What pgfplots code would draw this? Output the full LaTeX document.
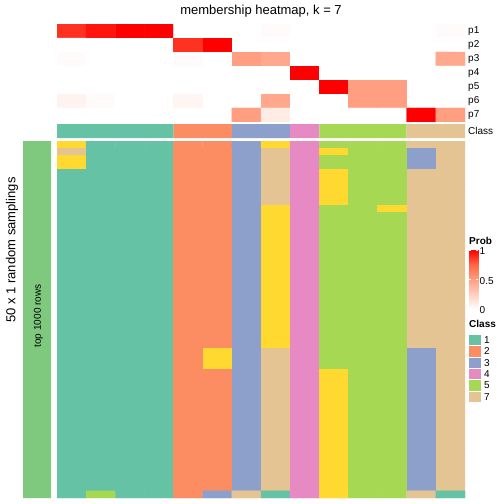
\documentclass[border=0pt]{standalone}
\usepackage{fontspec}
\setmainfont{Liberation Sans}
\usepackage{pgfplots}
\pgfplotsset{compat=1.18}
\definecolor{c1}{RGB}{102,194,165}
\definecolor{c2}{RGB}{252,141,98}
\definecolor{c3}{RGB}{141,160,203}
\definecolor{c4}{RGB}{231,138,195}
\definecolor{c5}{RGB}{166,216,84}
\definecolor{c7}{RGB}{229,196,148}
\definecolor{accgreen}{RGB}{127,201,127}
\pgfplotsset{
  colormap={probmap}{rgb255=(255,255,255) rgb255=(255,207,191) rgb255=(255,158,129) rgb255=(255,103,70) rgb255=(255,0,0)},
  colormap={classmap}{rgb255=(255,255,255) rgb255=(102,194,165) rgb255=(252,141,98) rgb255=(141,160,203) rgb255=(231,138,195) rgb255=(166,216,84) rgb255=(255,217,47) rgb255=(229,196,148)},
  hm/.style={scale only axis, anchor=north west, axis line style={draw=none}, major tick length=0pt, xtick=\empty, xmin=0.5, xmax=14.5, width=408bp, /pgf/number format/assume math mode=true},
}
\newcommand{\fs}[1]{\fontsize{#1bp}{#1bp}\selectfont}
\begin{document}
\begin{tikzpicture}
\path[use as bounding box] (0,0) rectangle (504bp,-504bp);
\node at (261bp,-11bp) {\fs{13}membership heatmap, k = 7};
\node[rotate=90] at (12bp,-250bp) {\fs{13}50 x 1 random samplings};
% probability heatmap
\begin{axis}[hm, at={(57bp,-24bp)}, height=98bp, ymin=0.5, ymax=7.5, y dir=reverse,
  ytick={1,2,3,4,5,6,7}, yticklabels={p1,p2,p3,p4,p5,p6,p7}, yticklabel pos=right,
  yticklabel style={font=\fs{10}, inner xsep=3bp},
  colormap name=probmap, point meta min=0, point meta max=1]
\addplot[matrix plot*, mesh/cols=14, point meta=explicit] table[row sep=\\, meta=c] {x y c\\
1 1 0.88\\ 2 1 0.95\\ 3 1 1\\ 4 1 1\\ 5 1 0\\ 6 1 0\\ 7 1 0\\ 8 1 0.02\\ 9 1 0\\ 10 1 0\\ 11 1 0\\ 12 1 0\\ 13 1 0\\ 14 1 0.02\\
1 2 0\\ 2 2 0\\ 3 2 0\\ 4 2 0\\ 5 2 0.88\\ 6 2 1\\ 7 2 0\\ 8 2 0\\ 9 2 0\\ 10 2 0\\ 11 2 0\\ 12 2 0\\ 13 2 0\\ 14 2 0\\
1 3 0.02\\ 2 3 0\\ 3 3 0\\ 4 3 0\\ 5 3 0.02\\ 6 3 0\\ 7 3 0.5\\ 8 3 0.45\\ 9 3 0\\ 10 3 0\\ 11 3 0\\ 12 3 0\\ 13 3 0\\ 14 3 0.45\\
1 4 0\\ 2 4 0\\ 3 4 0\\ 4 4 0\\ 5 4 0\\ 6 4 0\\ 7 4 0\\ 8 4 0\\ 9 4 1\\ 10 4 0\\ 11 4 0\\ 12 4 0\\ 13 4 0\\ 14 4 0\\
1 5 0\\ 2 5 0\\ 3 5 0\\ 4 5 0\\ 5 5 0\\ 6 5 0\\ 7 5 0\\ 8 5 0\\ 9 5 0\\ 10 5 1\\ 11 5 0.5\\ 12 5 0.5\\ 13 5 0\\ 14 5 0\\
1 6 0.06\\ 2 6 0.02\\ 3 6 0\\ 4 6 0\\ 5 6 0.05\\ 6 6 0\\ 7 6 0\\ 8 6 0.45\\ 9 6 0\\ 10 6 0\\ 11 6 0.5\\ 12 6 0.5\\ 13 6 0\\ 14 6 0\\
1 7 0\\ 2 7 0\\ 3 7 0\\ 4 7 0\\ 5 7 0\\ 6 7 0\\ 7 7 0.5\\ 8 7 0.1\\ 9 7 0\\ 10 7 0\\ 11 7 0\\ 12 7 0\\ 13 7 1\\ 14 7 0.5\\
};
\end{axis}
% class row: one filled span per class (columns 1-4, 5-6, 7-8, 9, 10-12, 13-14)
\begin{axis}[hm, at={(57bp,-124bp)}, height=14bp, ymin=0.5, ymax=1.5,
  ytick={1}, yticklabels={Class}, yticklabel pos=right,
  yticklabel style={font=\fs{10}, inner xsep=3bp}]
\addplot[fill=c1, draw=none] coordinates {(0.5,0.5) (4.5,0.5) (4.5,1.5) (0.5,1.5) (0.5,0.5)};
\addplot[fill=c2, draw=none] coordinates {(4.5,0.5) (6.5,0.5) (6.5,1.5) (4.5,1.5) (4.5,0.5)};
\addplot[fill=c3, draw=none] coordinates {(6.5,0.5) (8.5,0.5) (8.5,1.5) (6.5,1.5) (6.5,0.5)};
\addplot[fill=c4, draw=none] coordinates {(8.5,0.5) (9.5,0.5) (9.5,1.5) (8.5,1.5) (8.5,0.5)};
\addplot[fill=c5, draw=none] coordinates {(9.5,0.5) (12.5,0.5) (12.5,1.5) (9.5,1.5) (9.5,0.5)};
\addplot[fill=c7, draw=none] coordinates {(12.5,0.5) (14.5,0.5) (14.5,1.5) (12.5,1.5) (12.5,0.5)};
\end{axis}
% main heatmap
\begin{axis}[hm, at={(57bp,-141bp)}, height=357bp, ymin=0.5, ymax=50.5, y dir=reverse, ytick=\empty,
  colormap name=classmap, colormap access=direct]
\addplot[matrix plot*, mesh/cols=14, point meta=explicit] table[row sep=\\, meta=c] {x y c\\
1 1 6\\ 2 1 1\\ 3 1 1\\ 4 1 1\\ 5 1 2\\ 6 1 2\\ 7 1 3\\ 8 1 6\\ 9 1 4\\ 10 1 5\\ 11 1 5\\ 12 1 5\\ 13 1 7\\ 14 1 7\\
1 2 7\\ 2 2 1\\ 3 2 1\\ 4 2 1\\ 5 2 2\\ 6 2 2\\ 7 2 3\\ 8 2 7\\ 9 2 4\\ 10 2 6\\ 11 2 5\\ 12 2 5\\ 13 2 3\\ 14 2 7\\
1 3 6\\ 2 3 1\\ 3 3 1\\ 4 3 1\\ 5 3 2\\ 6 3 2\\ 7 3 3\\ 8 3 7\\ 9 3 4\\ 10 3 5\\ 11 3 5\\ 12 3 5\\ 13 3 3\\ 14 3 7\\
1 4 6\\ 2 4 1\\ 3 4 1\\ 4 4 1\\ 5 4 2\\ 6 4 2\\ 7 4 3\\ 8 4 7\\ 9 4 4\\ 10 4 5\\ 11 4 5\\ 12 4 5\\ 13 4 3\\ 14 4 7\\
1 5 1\\ 2 5 1\\ 3 5 1\\ 4 5 1\\ 5 5 2\\ 6 5 2\\ 7 5 3\\ 8 5 7\\ 9 5 4\\ 10 5 6\\ 11 5 5\\ 12 5 5\\ 13 5 7\\ 14 5 7\\
1 6 1\\ 2 6 1\\ 3 6 1\\ 4 6 1\\ 5 6 2\\ 6 6 2\\ 7 6 3\\ 8 6 7\\ 9 6 4\\ 10 6 6\\ 11 6 5\\ 12 6 5\\ 13 6 7\\ 14 6 7\\
1 7 1\\ 2 7 1\\ 3 7 1\\ 4 7 1\\ 5 7 2\\ 6 7 2\\ 7 7 3\\ 8 7 7\\ 9 7 4\\ 10 7 6\\ 11 7 5\\ 12 7 5\\ 13 7 7\\ 14 7 7\\
1 8 1\\ 2 8 1\\ 3 8 1\\ 4 8 1\\ 5 8 2\\ 6 8 2\\ 7 8 3\\ 8 8 7\\ 9 8 4\\ 10 8 6\\ 11 8 5\\ 12 8 5\\ 13 8 7\\ 14 8 7\\
1 9 1\\ 2 9 1\\ 3 9 1\\ 4 9 1\\ 5 9 2\\ 6 9 2\\ 7 9 3\\ 8 9 7\\ 9 9 4\\ 10 9 6\\ 11 9 5\\ 12 9 5\\ 13 9 7\\ 14 9 7\\
1 10 1\\ 2 10 1\\ 3 10 1\\ 4 10 1\\ 5 10 2\\ 6 10 2\\ 7 10 3\\ 8 10 6\\ 9 10 4\\ 10 10 5\\ 11 10 5\\ 12 10 6\\ 13 10 7\\ 14 10 7\\
1 11 1\\ 2 11 1\\ 3 11 1\\ 4 11 1\\ 5 11 2\\ 6 11 2\\ 7 11 3\\ 8 11 6\\ 9 11 4\\ 10 11 5\\ 11 11 5\\ 12 11 5\\ 13 11 7\\ 14 11 7\\
1 12 1\\ 2 12 1\\ 3 12 1\\ 4 12 1\\ 5 12 2\\ 6 12 2\\ 7 12 3\\ 8 12 6\\ 9 12 4\\ 10 12 5\\ 11 12 5\\ 12 12 5\\ 13 12 7\\ 14 12 7\\
1 13 1\\ 2 13 1\\ 3 13 1\\ 4 13 1\\ 5 13 2\\ 6 13 2\\ 7 13 3\\ 8 13 6\\ 9 13 4\\ 10 13 5\\ 11 13 5\\ 12 13 5\\ 13 13 7\\ 14 13 7\\
1 14 1\\ 2 14 1\\ 3 14 1\\ 4 14 1\\ 5 14 2\\ 6 14 2\\ 7 14 3\\ 8 14 6\\ 9 14 4\\ 10 14 5\\ 11 14 5\\ 12 14 5\\ 13 14 7\\ 14 14 7\\
1 15 1\\ 2 15 1\\ 3 15 1\\ 4 15 1\\ 5 15 2\\ 6 15 2\\ 7 15 3\\ 8 15 6\\ 9 15 4\\ 10 15 5\\ 11 15 5\\ 12 15 5\\ 13 15 7\\ 14 15 7\\
1 16 1\\ 2 16 1\\ 3 16 1\\ 4 16 1\\ 5 16 2\\ 6 16 2\\ 7 16 3\\ 8 16 6\\ 9 16 4\\ 10 16 5\\ 11 16 5\\ 12 16 5\\ 13 16 7\\ 14 16 7\\
1 17 1\\ 2 17 1\\ 3 17 1\\ 4 17 1\\ 5 17 2\\ 6 17 2\\ 7 17 3\\ 8 17 6\\ 9 17 4\\ 10 17 5\\ 11 17 5\\ 12 17 5\\ 13 17 7\\ 14 17 7\\
1 18 1\\ 2 18 1\\ 3 18 1\\ 4 18 1\\ 5 18 2\\ 6 18 2\\ 7 18 3\\ 8 18 6\\ 9 18 4\\ 10 18 5\\ 11 18 5\\ 12 18 5\\ 13 18 7\\ 14 18 7\\
1 19 1\\ 2 19 1\\ 3 19 1\\ 4 19 1\\ 5 19 2\\ 6 19 2\\ 7 19 3\\ 8 19 6\\ 9 19 4\\ 10 19 5\\ 11 19 5\\ 12 19 5\\ 13 19 7\\ 14 19 7\\
1 20 1\\ 2 20 1\\ 3 20 1\\ 4 20 1\\ 5 20 2\\ 6 20 2\\ 7 20 3\\ 8 20 6\\ 9 20 4\\ 10 20 5\\ 11 20 5\\ 12 20 5\\ 13 20 7\\ 14 20 7\\
1 21 1\\ 2 21 1\\ 3 21 1\\ 4 21 1\\ 5 21 2\\ 6 21 2\\ 7 21 3\\ 8 21 6\\ 9 21 4\\ 10 21 5\\ 11 21 5\\ 12 21 5\\ 13 21 7\\ 14 21 7\\
1 22 1\\ 2 22 1\\ 3 22 1\\ 4 22 1\\ 5 22 2\\ 6 22 2\\ 7 22 3\\ 8 22 6\\ 9 22 4\\ 10 22 5\\ 11 22 5\\ 12 22 5\\ 13 22 7\\ 14 22 7\\
1 23 1\\ 2 23 1\\ 3 23 1\\ 4 23 1\\ 5 23 2\\ 6 23 2\\ 7 23 3\\ 8 23 6\\ 9 23 4\\ 10 23 5\\ 11 23 5\\ 12 23 5\\ 13 23 7\\ 14 23 7\\
1 24 1\\ 2 24 1\\ 3 24 1\\ 4 24 1\\ 5 24 2\\ 6 24 2\\ 7 24 3\\ 8 24 6\\ 9 24 4\\ 10 24 5\\ 11 24 5\\ 12 24 5\\ 13 24 7\\ 14 24 7\\
1 25 1\\ 2 25 1\\ 3 25 1\\ 4 25 1\\ 5 25 2\\ 6 25 2\\ 7 25 3\\ 8 25 6\\ 9 25 4\\ 10 25 5\\ 11 25 5\\ 12 25 5\\ 13 25 7\\ 14 25 7\\
1 26 1\\ 2 26 1\\ 3 26 1\\ 4 26 1\\ 5 26 2\\ 6 26 2\\ 7 26 3\\ 8 26 6\\ 9 26 4\\ 10 26 5\\ 11 26 5\\ 12 26 5\\ 13 26 7\\ 14 26 7\\
1 27 1\\ 2 27 1\\ 3 27 1\\ 4 27 1\\ 5 27 2\\ 6 27 2\\ 7 27 3\\ 8 27 6\\ 9 27 4\\ 10 27 5\\ 11 27 5\\ 12 27 5\\ 13 27 7\\ 14 27 7\\
1 28 1\\ 2 28 1\\ 3 28 1\\ 4 28 1\\ 5 28 2\\ 6 28 2\\ 7 28 3\\ 8 28 6\\ 9 28 4\\ 10 28 5\\ 11 28 5\\ 12 28 5\\ 13 28 7\\ 14 28 7\\
1 29 1\\ 2 29 1\\ 3 29 1\\ 4 29 1\\ 5 29 2\\ 6 29 2\\ 7 29 3\\ 8 29 6\\ 9 29 4\\ 10 29 5\\ 11 29 5\\ 12 29 5\\ 13 29 7\\ 14 29 7\\
1 30 1\\ 2 30 1\\ 3 30 1\\ 4 30 1\\ 5 30 2\\ 6 30 6\\ 7 30 3\\ 8 30 7\\ 9 30 4\\ 10 30 5\\ 11 30 5\\ 12 30 5\\ 13 30 3\\ 14 30 7\\
1 31 1\\ 2 31 1\\ 3 31 1\\ 4 31 1\\ 5 31 2\\ 6 31 6\\ 7 31 3\\ 8 31 7\\ 9 31 4\\ 10 31 5\\ 11 31 5\\ 12 31 5\\ 13 31 3\\ 14 31 7\\
1 32 1\\ 2 32 1\\ 3 32 1\\ 4 32 1\\ 5 32 2\\ 6 32 6\\ 7 32 3\\ 8 32 7\\ 9 32 4\\ 10 32 5\\ 11 32 5\\ 12 32 5\\ 13 32 3\\ 14 32 7\\
1 33 1\\ 2 33 1\\ 3 33 1\\ 4 33 1\\ 5 33 2\\ 6 33 2\\ 7 33 3\\ 8 33 7\\ 9 33 4\\ 10 33 6\\ 11 33 5\\ 12 33 5\\ 13 33 3\\ 14 33 7\\
1 34 1\\ 2 34 1\\ 3 34 1\\ 4 34 1\\ 5 34 2\\ 6 34 2\\ 7 34 3\\ 8 34 7\\ 9 34 4\\ 10 34 6\\ 11 34 5\\ 12 34 5\\ 13 34 3\\ 14 34 7\\
1 35 1\\ 2 35 1\\ 3 35 1\\ 4 35 1\\ 5 35 2\\ 6 35 2\\ 7 35 3\\ 8 35 7\\ 9 35 4\\ 10 35 6\\ 11 35 5\\ 12 35 5\\ 13 35 3\\ 14 35 7\\
1 36 1\\ 2 36 1\\ 3 36 1\\ 4 36 1\\ 5 36 2\\ 6 36 2\\ 7 36 3\\ 8 36 7\\ 9 36 4\\ 10 36 6\\ 11 36 5\\ 12 36 5\\ 13 36 3\\ 14 36 7\\
1 37 1\\ 2 37 1\\ 3 37 1\\ 4 37 1\\ 5 37 2\\ 6 37 2\\ 7 37 3\\ 8 37 7\\ 9 37 4\\ 10 37 6\\ 11 37 5\\ 12 37 5\\ 13 37 3\\ 14 37 7\\
1 38 1\\ 2 38 1\\ 3 38 1\\ 4 38 1\\ 5 38 2\\ 6 38 2\\ 7 38 3\\ 8 38 7\\ 9 38 4\\ 10 38 6\\ 11 38 5\\ 12 38 5\\ 13 38 3\\ 14 38 7\\
1 39 1\\ 2 39 1\\ 3 39 1\\ 4 39 1\\ 5 39 2\\ 6 39 2\\ 7 39 3\\ 8 39 7\\ 9 39 4\\ 10 39 6\\ 11 39 5\\ 12 39 5\\ 13 39 3\\ 14 39 7\\
1 40 1\\ 2 40 1\\ 3 40 1\\ 4 40 1\\ 5 40 2\\ 6 40 2\\ 7 40 3\\ 8 40 7\\ 9 40 4\\ 10 40 6\\ 11 40 5\\ 12 40 5\\ 13 40 3\\ 14 40 7\\
1 41 1\\ 2 41 1\\ 3 41 1\\ 4 41 1\\ 5 41 2\\ 6 41 2\\ 7 41 3\\ 8 41 7\\ 9 41 4\\ 10 41 6\\ 11 41 5\\ 12 41 5\\ 13 41 3\\ 14 41 7\\
1 42 1\\ 2 42 1\\ 3 42 1\\ 4 42 1\\ 5 42 2\\ 6 42 2\\ 7 42 3\\ 8 42 7\\ 9 42 4\\ 10 42 6\\ 11 42 5\\ 12 42 5\\ 13 42 3\\ 14 42 7\\
1 43 1\\ 2 43 1\\ 3 43 1\\ 4 43 1\\ 5 43 2\\ 6 43 2\\ 7 43 3\\ 8 43 7\\ 9 43 4\\ 10 43 6\\ 11 43 5\\ 12 43 5\\ 13 43 3\\ 14 43 7\\
1 44 1\\ 2 44 1\\ 3 44 1\\ 4 44 1\\ 5 44 2\\ 6 44 2\\ 7 44 3\\ 8 44 7\\ 9 44 4\\ 10 44 6\\ 11 44 5\\ 12 44 5\\ 13 44 3\\ 14 44 7\\
1 45 1\\ 2 45 1\\ 3 45 1\\ 4 45 1\\ 5 45 2\\ 6 45 2\\ 7 45 3\\ 8 45 7\\ 9 45 4\\ 10 45 6\\ 11 45 5\\ 12 45 5\\ 13 45 3\\ 14 45 7\\
1 46 1\\ 2 46 1\\ 3 46 1\\ 4 46 1\\ 5 46 2\\ 6 46 2\\ 7 46 3\\ 8 46 7\\ 9 46 4\\ 10 46 6\\ 11 46 5\\ 12 46 5\\ 13 46 3\\ 14 46 7\\
1 47 1\\ 2 47 1\\ 3 47 1\\ 4 47 1\\ 5 47 2\\ 6 47 2\\ 7 47 3\\ 8 47 7\\ 9 47 4\\ 10 47 6\\ 11 47 5\\ 12 47 5\\ 13 47 3\\ 14 47 7\\
1 48 1\\ 2 48 1\\ 3 48 1\\ 4 48 1\\ 5 48 2\\ 6 48 2\\ 7 48 3\\ 8 48 7\\ 9 48 4\\ 10 48 6\\ 11 48 5\\ 12 48 5\\ 13 48 3\\ 14 48 7\\
1 49 1\\ 2 49 1\\ 3 49 1\\ 4 49 1\\ 5 49 2\\ 6 49 2\\ 7 49 3\\ 8 49 7\\ 9 49 4\\ 10 49 6\\ 11 49 5\\ 12 49 5\\ 13 49 3\\ 14 49 7\\
1 50 1\\ 2 50 5\\ 3 50 1\\ 4 50 1\\ 5 50 2\\ 6 50 3\\ 7 50 7\\ 8 50 1\\ 9 50 4\\ 10 50 6\\ 11 50 5\\ 12 50 5\\ 13 50 7\\ 14 50 1\\
};
\end{axis}
% left annotation bar
\begin{axis}[scale only axis, anchor=north west, at={(23bp,-141bp)}, width=28bp, height=357bp,
  xmin=0, xmax=1, ymin=0, ymax=1, axis line style={draw=none}, xtick=\empty, ytick=\empty]
\addplot[fill=accgreen, draw=none] coordinates {(0,0) (1,0) (1,1) (0,1) (0,0)};
\node[rotate=90, font=\fs{10}] at (axis cs:0.55,0.51) {top 1000 rows};
\end{axis}
% colour bar legend
\node[anchor=west, font=\bfseries\fs{10}, inner sep=0pt] at (469bp,-241bp) {Prob};
\begin{axis}[scale only axis, anchor=north west, at={(469bp,-250bp)}, width=9bp, height=59bp,
  xmin=0, xmax=1, ymin=0, ymax=1, axis line style={draw=none}, axis on top,
  xtick=\empty, ytick={0,0.5,1}, yticklabels={0,0.5,1}, yticklabel pos=right,
  tick align=inside, major tick length=2bp, tick style={draw=white, line width=0.6pt},
  yticklabel style={font=\fs{10}, inner xsep=1.5bp, yshift=-1.5bp},
  colormap name=probmap, point meta min=0, point meta max=1]
\addplot[surf, shader=interp, point meta=explicit, mesh/cols=2] coordinates {(0,0) [0] (1,0) [0] (0,1) [1] (1,1) [1]};
\end{axis}
% class legend
\node[anchor=west, font=\bfseries\fs{10}, inner sep=0pt] at (469bp,-324bp) {Class};
\foreach \col/\lab/\yy in {c1/1/335, c2/2/346.3, c3/3/357.6, c4/4/368.9, c5/5/380.2, c7/7/391.5} {
  \fill[\col] (469bp,-\yy bp) rectangle (481bp,-\yy bp-10.3bp);
  \node[anchor=west, font=\fs{10}, inner sep=0pt] at (484bp,-\yy bp-5.2bp) {\lab};
}
\end{tikzpicture}
\end{document}
